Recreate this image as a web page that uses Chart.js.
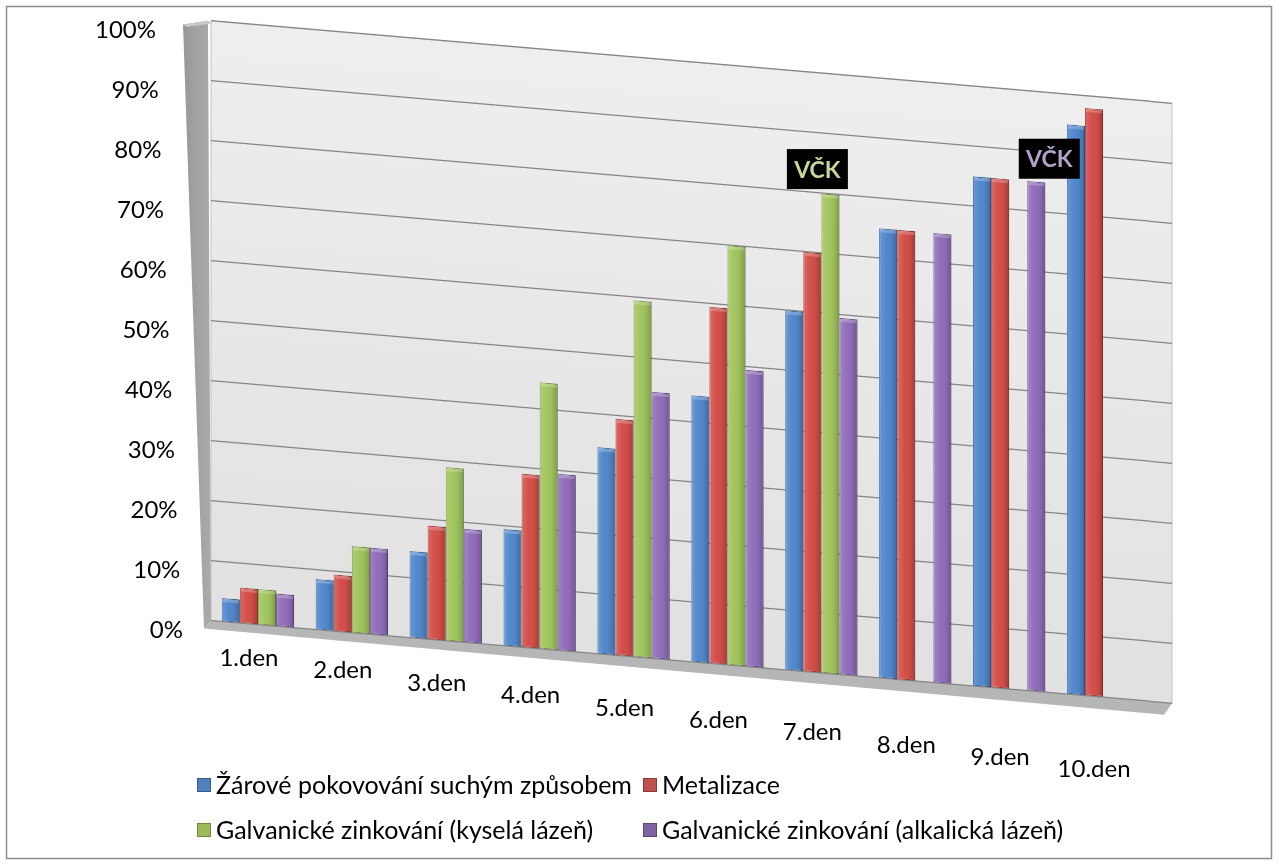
<!DOCTYPE html>
<html>
<head>
<meta charset="utf-8">
<script src="https://cdn.jsdelivr.net/npm/chart.js@4.4.1/dist/chart.umd.min.js"></script>
<style>
  html, body { margin: 0; padding: 0; background: #ffffff; }
  #wrap { position: relative; width: 1279px; height: 866px; }
  canvas { display: block; }
</style>
</head>
<body>
<div id="wrap"><canvas id="c" width="1279" height="866"></canvas></div>
<script>
// ---------- data ----------
const categories = ['1.den', '2.den', '3.den', '4.den', '5.den', '6.den', '7.den', '8.den', '9.den', '10.den'];
const seriesNames = [
  'Žárové pokovování suchým způsobem',
  'Metalizace',
  'Galvanické zinkování (kyselá lázeň)',
  'Galvanické zinkování (alkalická lázeň)'
];
const zaroveSuchym   = [4, 8.5, 14.5, 19.5, 34.5, 44.5, 60, 75, 85, 95];
const metalizace     = [6, 9.5, 19, 29, 39.5, 59.5, 70, 75, 85, 98];
const galvKysela     = [6, 14.5, 29, 44.5, 59.5, 70, 80, null, null, null];
const galvAlkalicka  = [5.5, 14.5, 19, 29.5, 44.5, 49.5, 59.5, 75, 85, null];
const yTickValues    = [0, 10, 20, 30, 40, 50, 60, 70, 80, 90, 100];
const vckText        = 'VČK';
const vckSeries      = [2, 3];
const vckCategory    = [6, 8];

// ---------- style ----------
const FONT = 'Lato, "Open Sans", "Liberation Sans", sans-serif';
const barFill   = ['#4680C9', '#D2433D', '#9CC254', '#8A65B6'];
const barEdge   = ['#2C5C99', '#9B2B27', '#6F8F34', '#5F4486'];
const legFill   = ['#4F81BD', '#C0504D', '#9BBB59', '#8064A2'];
const legEdge   = ['#385D8A', '#8C3836', '#71893F', '#5C4776'];
const vckColor  = ['#C4D79B', '#B3A2C7'];
const K = 0.0857;          // perspective-like skew of the plot
const WALL_RIGHT = 1172;

function skewed(chart, x, y) { return y + K * (x - chart.chartArea.left); }

const perspective = {
  id: 'perspective',
  beforeDraw(chart) {
    const { ctx, chartArea: a, scales: { y } } = chart;
    const x0 = a.left;
    const yTop = y.getPixelForValue(100), yBot = y.getPixelForValue(0);
    ctx.save();
    ctx.transform(1, K, 0, 1, 0, -K * x0);

    // back wall
    const g = ctx.createLinearGradient(0, yTop, 0, yBot);
    g.addColorStop(0, '#eeeeee');
    g.addColorStop(1, '#e1e1e1');
    ctx.fillStyle = g;
    ctx.fillRect(x0, yTop, WALL_RIGHT - x0, yBot - yTop);
    ctx.strokeStyle = '#c4c4c4';
    ctx.lineWidth = 1;
    ctx.strokeRect(x0, yTop, WALL_RIGHT - x0, yBot - yTop);

    // side wall
    const sg = ctx.createLinearGradient(x0 - 28, 0, x0, 0);
    sg.addColorStop(0, '#989898');
    sg.addColorStop(1, '#ababab');
    ctx.fillStyle = sg;
    ctx.beginPath();
    ctx.moveTo(x0 - 28, yTop + 6);
    ctx.lineTo(x0 - 3, yTop);
    ctx.lineTo(x0, yBot);
    ctx.lineTo(x0 - 7, yBot + 8);
    ctx.closePath();
    ctx.fill();
    ctx.fillStyle = '#c9c9c9';
    ctx.beginPath();
    ctx.moveTo(x0 - 28, yTop + 6);
    ctx.lineTo(x0 - 3, yTop);
    ctx.lineTo(x0 + 2, yTop + 2);
    ctx.lineTo(x0 - 24, yTop + 8);
    ctx.closePath();
    ctx.fill();

    // floor
    ctx.fillStyle = '#b6b6b6';
    ctx.beginPath();
    ctx.moveTo(x0, yBot);
    ctx.lineTo(WALL_RIGHT, yBot);
    ctx.lineTo(WALL_RIGHT - 8, yBot + 12);
    ctx.lineTo(x0 - 7, yBot + 8);
    ctx.closePath();
    ctx.fill();

    // gridline continuation up to the wall edge
    ctx.strokeStyle = '#858585';
    ctx.lineWidth = 1.3;
    yTickValues.forEach(v => {
      const py = y.getPixelForValue(v);
      ctx.beginPath();
      ctx.moveTo(a.right, py);
      ctx.lineTo(WALL_RIGHT, py);
      ctx.stroke();
    });
  },
  afterDatasetsDraw(chart) {
    const { ctx } = chart;
    chart.data.datasets.forEach((ds, di) => {
      const meta = chart.getDatasetMeta(di);
      meta.data.forEach((el, i) => {
        if (ds.data[i] == null) return;
        const p = el.getProps(['x', 'y', 'base', 'width'], true);
        const left = p.x - p.width / 2;
        const gr = ctx.createLinearGradient(left, 0, left + p.width, 0);
        gr.addColorStop(0, 'rgba(255,255,255,0.20)');
        gr.addColorStop(0.4, 'rgba(255,255,255,0.06)');
        gr.addColorStop(1, 'rgba(0,0,0,0.22)');
        ctx.fillStyle = gr;
        ctx.fillRect(left, p.y, p.width, p.base - p.y);
        ctx.fillStyle = 'rgba(255,255,255,0.22)';
        ctx.fillRect(left + 1, p.y + 1, p.width - 2, 3);
      });
    });
  },
  afterDraw(chart) {
    const { ctx, chartArea: a, scales: { x, y } } = chart;
    ctx.restore();
    const x0 = a.left;

    ctx.save();
    // y tick labels
    ctx.fillStyle = '#000';
    ctx.font = '24px ' + FONT;
    ctx.textAlign = 'right';
    ctx.textBaseline = 'middle';
    yTickValues.forEach(v => {
      const gy = y.getPixelForValue(v);
      ctx.fillText(v + '%', 156 + 27 * (1 - v / 100), gy + 9);
    });

    // category labels
    ctx.textAlign = 'center';
    const yBot = y.getPixelForValue(0);
    categories.forEach((c, i) => {
      const cx = x.getPixelForValue(i);
      ctx.fillText(c, cx - 9, yBot + 31 + 0.132 * (cx - x0));
    });

    // VČK markers
    vckSeries.forEach((s, k) => {
      const el = chart.getDatasetMeta(s).data[vckCategory[k]];
      const top = skewed(chart, el.x, el.y);
      const bw = 61, bh = 40;
      const cx = el.x + (k === 0 ? -13 : 13);
      const bottom = k === 0 ? top - 5 : top - 3;
      ctx.fillStyle = '#000';
      ctx.fillRect(cx - bw / 2, bottom - bh, bw, bh);
      ctx.fillStyle = vckColor[k];
      ctx.font = 'bold 23px ' + FONT;
      ctx.textAlign = 'center';
      ctx.textBaseline = 'middle';
      ctx.fillText(vckText, cx, bottom - bh / 2 + 1);
    });

    // legend
    ctx.font = '25px ' + FONT;
    ctx.textAlign = 'left';
    ctx.textBaseline = 'middle';
    const legX = [197, 643, 197, 643];
    const legY = [785, 785, 830, 830];
    seriesNames.forEach((n, i) => {
      ctx.fillStyle = legFill[i];
      ctx.fillRect(legX[i], legY[i] - 7, 14, 14);
      ctx.strokeStyle = legEdge[i];
      ctx.lineWidth = 1;
      ctx.strokeRect(legX[i] + 0.5, legY[i] - 6.5, 13, 13);
      ctx.fillStyle = '#000';
      ctx.fillText(n, legX[i] + 19, legY[i] + 1);
    });

    // outer border
    ctx.strokeStyle = '#8c8c8c';
    ctx.lineWidth = 1.5;
    ctx.strokeRect(6.5, 6.5, 1265, 852);
    ctx.restore();
  }
};

const seriesData = [zaroveSuchym, metalizace, galvKysela, galvAlkalicka];

new Chart(document.getElementById('c'), {
  type: 'bar',
  data: {
    labels: categories,
    datasets: seriesNames.map((n, i) => ({
      label: n,
      data: seriesData[i],
      backgroundColor: barFill[i],
      borderColor: barEdge[i],
      borderWidth: 1,
      borderSkipped: false,
      categoryPercentage: 0.77,
      barPercentage: 1.0
    }))
  },
  options: {
    responsive: false,
    animation: false,
    devicePixelRatio: 1,
    layout: { padding: { left: 211, right: 1279 - 1150, top: 21, bottom: 866 - 621 } },
    plugins: {
      legend: { display: false },
      tooltip: { enabled: false }
    },
    scales: {
      x: { display: false },
      y: {
        min: 0,
        max: 100,
        ticks: { display: false, stepSize: 10 },
        grid: { color: '#858585', lineWidth: 1.3, drawTicks: false },
        border: { display: false }
      }
    }
  },
  plugins: [perspective]
});
</script>
</body>
</html>
